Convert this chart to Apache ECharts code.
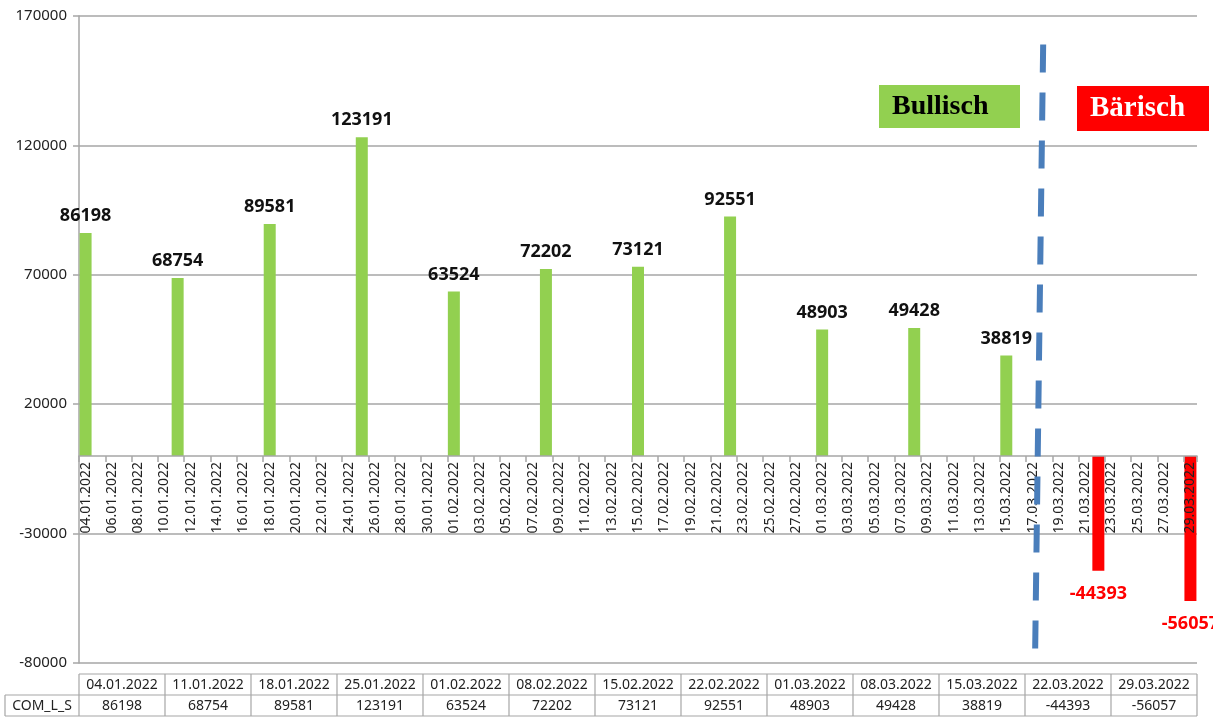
<!DOCTYPE html>
<html lang="de">
<head>
    <meta charset="UTF-8">
    <title>COM_L_S</title>
    <script src="https://cdn.jsdelivr.net/npm/echarts@6/dist/echarts.min.js"></script>
    <style>
        html, body { margin: 0; padding: 0; background: #fff; }
        #main { width: 1213px; height: 718px; }
    </style>
</head>
<body>
<div id="main"></div>
<script>
    // wöchentliche Werte
    const barDates = ['04.01.2022', '11.01.2022', '18.01.2022', '25.01.2022', '01.02.2022', '08.02.2022',
        '15.02.2022', '22.02.2022', '01.03.2022', '08.03.2022', '15.03.2022', '22.03.2022', '29.03.2022'];
    const barValues = [86198, 68754, 89581, 123191, 63524, 72202, 73121, 92551, 48903, 49428, 38819, -44393, -56057];
    const seriesName = 'COM_L_S';

    // Kalendertage der Datumsachse (04.01. bis 29.03.2022)
    const monthDays = [['01', 4, 31], ['02', 1, 28], ['03', 1, 29]];
    const allDays = [];
    monthDays.forEach(function (m) {
        for (let d = m[1]; d <= m[2]; d++) {
            allDays.push((d < 10 ? '0' + d : '' + d) + '.' + m[0] + '.2022');
        }
    });

    const yTicks = {min: -80000, max: 170000, interval: 50000};
    const splitDay = ['17.03.2022', '18.03.2022'];

    const gridLeft = 79, gridRight = 16, gridTop = 16, gridBottom = 55;
    const W = 1213, H = 718;
    const font = '"Noto Sans", sans-serif';
    const green = '#92d050', red = '#ff0000', gray = '#a6a6a6';

    let mychart = echarts.init(document.getElementById('main'), null, {renderer: 'canvas'});

    let barData = barDates.map(function (d, i) {
        let v = barValues[i];
        let neg = v < 0;
        return {
            value: [d, v],
            itemStyle: {color: neg ? red : green},
            label: {
                show: true,
                position: neg ? 'bottom' : 'top',
                distance: neg ? 14 : 8,
                color: neg ? red : '#111',
                fontWeight: 'bold',
                fontSize: 18,
                fontFamily: font
            }
        };
    });

    let option = {
        animation: false,
        backgroundColor: '#fff',
        grid: {
            left: gridLeft, right: gridRight, top: gridTop, bottom: gridBottom,
            containLabel: false, outerBoundsMode: 'none'
        },
        xAxis: {
            type: 'category',
            data: allDays,
            boundaryGap: true,
            z: 5,
            axisLine: {onZero: false, lineStyle: {color: gray, width: 1.5}},
            axisTick: {show: true, interval: 1, length: 6, lineStyle: {color: gray, width: 1.5}},
            axisLabel: {
                interval: 1, rotate: 90, color: '#222', fontSize: 14, fontFamily: font, margin: 6,
                showMaxLabel: true, hideOverlap: false
            },
            splitLine: {show: false}
        },
        yAxis: {
            type: 'value',
            min: yTicks.min,
            max: yTicks.max,
            interval: yTicks.interval,
            axisLine: {show: true, lineStyle: {color: gray, width: 1.5}},
            axisTick: {show: true, length: 6, lineStyle: {color: gray, width: 1.5}},
            axisLabel: {
                color: '#222', fontSize: 15, fontFamily: font, margin: 12,
                formatter: function (v) { return String(v); }
            },
            splitLine: {show: true, lineStyle: {color: gray, width: 1.5}}
        },
        series: [{
            name: seriesName,
            type: 'bar',
            barWidth: 12,
            data: barData
        }]
    };
    mychart.setOption(option);

    // Datumsachse auf die Nulllinie schieben (samt Beschriftung)
    let yZero = mychart.convertToPixel({yAxisIndex: 0}, 0);
    let yMin = mychart.convertToPixel({yAxisIndex: 0}, yTicks.min);
    mychart.setOption({xAxis: {offset: -(yMin - yZero)}});

    // Datentabelle unter dem Diagramm
    let graphics = [];
    const tableTop = 674, rowH = 21;
    const plotW = W - gridLeft - gridRight;
    const colW = plotW / barDates.length;
    const lineStyle = {stroke: gray, lineWidth: 1.2};
    function hline(x1, x2, y) {
        graphics.push({type: 'line', shape: {x1: x1, y1: y, x2: x2, y2: y}, style: lineStyle, silent: true});
    }
    function vline(x, y1, y2) {
        graphics.push({type: 'line', shape: {x1: x, y1: y1, x2: x, y2: y2}, style: lineStyle, silent: true});
    }
    function cellText(txt, cx, cy) {
        graphics.push({
            type: 'text', x: cx, y: cy, silent: true,
            style: {text: txt, fill: '#222', font: '14px ' + font, align: 'center', verticalAlign: 'middle'}
        });
    }
    hline(gridLeft, W - gridRight, tableTop);
    hline(5, W - gridRight, tableTop + rowH);
    hline(5, W - gridRight, tableTop + 2 * rowH);
    vline(5, tableTop + rowH, tableTop + 2 * rowH);
    for (let i = 0; i <= barDates.length; i++) {
        vline(gridLeft + i * colW, tableTop, tableTop + 2 * rowH);
    }
    barDates.forEach(function (d, i) {
        let cx = gridLeft + (i + 0.5) * colW;
        cellText(d, cx, tableTop + rowH / 2 + 1);
        cellText(String(barValues[i]), cx, tableTop + rowH * 1.5 + 1);
    });
    cellText(seriesName, (5 + gridLeft) / 2, tableTop + rowH * 1.5 + 1);

    // Trennlinie bullisch / bärisch
    let xa = mychart.convertToPixel({xAxisIndex: 0}, splitDay[0]);
    let xb = mychart.convertToPixel({xAxisIndex: 0}, splitDay[1]);
    let xs = (xa + xb) / 2;
    let yTop = mychart.convertToPixel({yAxisIndex: 0}, 159000);
    let yBot = mychart.convertToPixel({yAxisIndex: 0}, -75000);
    graphics.push({
        type: 'line', silent: true, z: 100,
        shape: {x1: xs + 4, y1: yTop, x2: xs - 4, y2: yBot},
        style: {stroke: '#4a7ebb', lineWidth: 6, lineDash: [28, 20]}
    });

    // Beschriftungsfelder
    graphics.push({
        type: 'group', left: 879, top: 85, silent: true,
        children: [
            {type: 'rect', shape: {x: 0, y: 0, width: 141, height: 43}, style: {fill: green}},
            {type: 'text', x: 13, y: 22, style: {text: 'Bullisch', fill: '#000',
                    font: 'bold 28px "Liberation Serif", serif', verticalAlign: 'middle'}}
        ]
    });
    graphics.push({
        type: 'group', left: 1077, top: 86, silent: true,
        children: [
            {type: 'rect', shape: {x: 0, y: 0, width: 132, height: 45}, style: {fill: red}},
            {type: 'text', x: 13, y: 23, style: {text: 'Bärisch', fill: '#fff',
                    font: 'bold 29px "Liberation Serif", serif', verticalAlign: 'middle'}}
        ]
    });

    mychart.setOption({graphic: graphics});
</script>
</body>
</html>
